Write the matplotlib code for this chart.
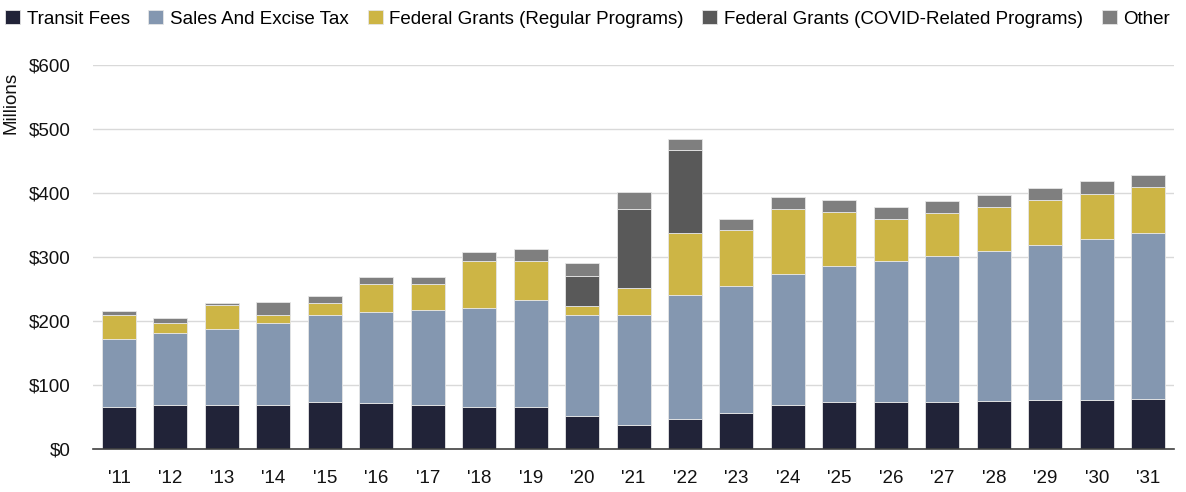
import numpy as np
import matplotlib
matplotlib.use("Agg")
import matplotlib.pyplot as plt

plt.rcParams["font.family"] = ["Liberation Sans Narrow", "Liberation Sans", "DejaVu Sans"]

years = ["'11", "'12", "'13", "'14", "'15", "'16", "'17", "'18", "'19", "'20",
         "'21", "'22", "'23", "'24", "'25", "'26", "'27", "'28", "'29", "'30", "'31"]

transit_fees = [66, 68, 69, 69, 73, 72, 69, 66, 66, 52, 38, 47, 56, 68, 73, 73, 74, 75, 76, 77, 78]
sales_excise = [106, 113, 119, 128, 137, 142, 148, 154, 167, 158, 172, 193, 199, 206, 213, 221, 228, 235, 243, 251, 259]
fed_regular = [37, 16, 37, 12, 18, 44, 40, 73, 60, 14, 41, 97, 87, 101, 84, 65, 66, 68, 70, 71, 72]
fed_covid = [0, 0, 0, 0, 0, 0, 0, 0, 0, 47, 124, 130, 0, 0, 0, 0, 0, 0, 0, 0, 0]
other = [6, 7, 3, 20, 11, 11, 11, 15, 19, 20, 26, 17, 18, 19, 19, 19, 19, 19, 19, 19, 19]

series = [
    ("Transit Fees", transit_fees, "#212338"),
    ("Sales And Excise Tax", sales_excise, "#8497B0"),
    ("Federal Grants (Regular Programs)", fed_regular, "#CDB545"),
    ("Federal Grants (COVID-Related Programs)", fed_covid, "#595959"),
    ("Other", other, "#7F7F7F"),
]

fig = plt.figure(figsize=(11.86, 4.92), dpi=100)
ax = fig.add_axes([0.0784, 0.0874, 0.9116, 0.7806])

x = np.arange(len(years))
bottom = np.zeros(len(years))
for label, vals, color in series:
    vals = np.array(vals, dtype=float)
    ax.bar(x, vals, 0.66, bottom=bottom, color=color, label=label,
           edgecolor="#e6e6e6", linewidth=0.6, zorder=3)
    bottom += vals

ax.set_xlim(-0.505, len(years) - 0.495)
ax.set_ylim(0, 600)
ax.set_yticks(np.arange(0, 601, 100))
ax.set_yticklabels([f"${v}" for v in range(0, 601, 100)])
ax.set_xticks(x)
ax.set_xticklabels(years)
ax.tick_params(axis="both", length=0, labelsize=13.5, colors="#111111")
ax.tick_params(axis="y", pad=16)
ax.tick_params(axis="x", pad=15)
ax.grid(axis="y", color="#d9d9d9", linewidth=1, zorder=0)
for s in ["top", "right", "left"]:
    ax.spines[s].set_visible(False)
ax.spines["bottom"].set_color("#404040")
ax.spines["bottom"].set_linewidth(1.2)
ax.spines["bottom"].set_zorder(4)

fig.text(0.009, 0.79, "Millions", rotation=90, ha="center", va="center",
         fontsize=13.5, color="#111111")

handles, labels = ax.get_legend_handles_labels()
fig.legend(handles, labels, loc="upper left", bbox_to_anchor=(-0.002, 0.995), ncol=5,
           frameon=False, fontsize=13.5, handlelength=0.8, handleheight=0.8,
           handletextpad=0.35, columnspacing=1.0, borderaxespad=0)

fig.savefig("out.png", dpi=100)
